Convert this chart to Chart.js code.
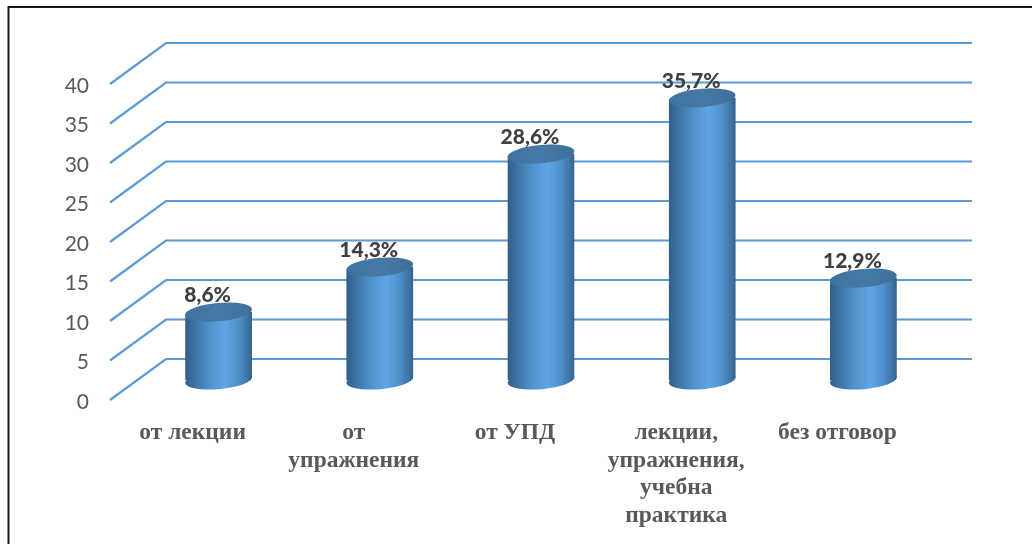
<!DOCTYPE html>
<html><head><meta charset="utf-8">
<style>html,body{margin:0;padding:0;background:#fff}#w{position:absolute;left:0;top:0;width:1032px;height:544px}</style>
<script src="https://cdn.jsdelivr.net/npm/chart.js@4"></script>
</head><body><div id="w"><canvas id="c" width="1032" height="544"></canvas></div>
<script>
const categories = ['от лекции', ['от', 'упражнения'], 'от УПД', ['лекции,', 'упражнения,', 'учебна', 'практика'], 'без отговор'];
const values = [8.6, 14.3, 28.6, 35.7, 12.9];
const valueLabels = ['8,6%', '14,3%', '28,6%', '35,7%', '12,9%'];

const DX = 56, DY = -41;        // depth of the 3D floor
const MX = 28, MY = -20;        // bar sits half way through the depth
const RX = 33.5, RY = 9.2, ROT = -5 * Math.PI / 180;

function bodyGradient(ctx, cx) {
  const g = ctx.createLinearGradient(cx - RX, 0, cx + RX, 0);
  g.addColorStop(0, '#305e87');
  g.addColorStop(0.15, '#3d74a6');
  g.addColorStop(0.35, '#4f90ca');
  g.addColorStop(0.6, '#5ea6e5');
  g.addColorStop(0.8, '#4f8fca');
  g.addColorStop(0.93, '#3f74a5');
  g.addColorStop(1, '#34618c');
  return g;
}
function ellipse(ctx, x, y, fill) {
  ctx.beginPath();
  ctx.ellipse(x, y, RX, RY, ROT, 0, Math.PI * 2);
  ctx.fillStyle = fill;
  ctx.fill();
}
const depth3d = {
  id: 'depth3d',
  beforeDraw(chart) {
    const { ctx, width, height } = chart;
    ctx.save();
    ctx.fillStyle = '#fff';
    ctx.fillRect(0, 0, width, height);
    ctx.strokeStyle = '#1a1a1a';
    ctx.lineWidth = 2;
    ctx.beginPath();
    ctx.moveTo(8.5, height);
    ctx.lineTo(8.5, 7);
    ctx.lineTo(width, 7);
    ctx.stroke();
    ctx.restore();
  },
  beforeDatasetsDraw(chart) {
    const { ctx, chartArea: a, scales: { y } } = chart;
    ctx.save();
    ctx.strokeStyle = '#5B9BD5';
    ctx.lineWidth = 2.2;
    ctx.lineJoin = 'miter';
    y.ticks.forEach(t => {
      const py = y.getPixelForValue(t.value);
      ctx.beginPath();
      ctx.moveTo(a.left, py);
      ctx.lineTo(a.left + DX, py + DY);
      ctx.lineTo(a.right + DX, py + DY);
      ctx.stroke();
    });
    ctx.restore();
  },
  beforeDatasetDraw(chart, args) {
    const { ctx } = chart;
    const pts = args.meta.data;
    pts.forEach(b => {
      const cx = b.x + MX, cy = b.base + MY;
      ellipse(ctx, cx, cy, bodyGradient(ctx, cx));
    });
    ctx.save();
    const ex = RX * Math.cos(ROT), ey = RX * Math.sin(ROT);
    ctx.beginPath();
    pts.forEach(b => {
      const cx = b.x + MX, topY = b.y + MY, botY = b.base + MY;
      ctx.moveTo(cx - ex, topY - ey);
      ctx.lineTo(cx - ex, botY - ey);
      ctx.ellipse(cx, botY, RX, RY, ROT, Math.PI, 0, true);
      ctx.lineTo(cx + ex, topY + ey);
      ctx.ellipse(cx, topY, RX, RY, ROT, 0, Math.PI, true);
      ctx.closePath();
    });
    ctx.clip();
    ctx.translate(MX, MY);
  },
  afterDatasetDraw(chart, args) {
    const { ctx } = chart;
    ctx.restore();
    args.meta.data.forEach(b => {
      const cx = b.x + MX, cy = b.y + MY;
      const g = ctx.createLinearGradient(cx - RX, cy, cx + RX, cy);
      g.addColorStop(0, '#3f729f');
      g.addColorStop(0.5, '#4679a6');
      g.addColorStop(1, '#3f6f99');
      ellipse(ctx, cx, cy, g);
    });
  },
  afterDatasetsDraw(chart) {
    const { ctx } = chart;
    const meta = chart.getDatasetMeta(0);
    ctx.save();
    ctx.font = '900 21px Lato';
    ctx.fillStyle = '#404040';
    ctx.textAlign = 'center';
    ctx.textBaseline = 'middle';
    meta.data.forEach((b, i) => {
      ctx.fillText(valueLabels[i], b.x + MX - 11, b.y + MY - 17);
    });
    ctx.restore();
  }
};

new Chart(document.getElementById('c'), {
  type: 'bar',
  data: {
    labels: categories,
    datasets: [{
      data: values,
      barThickness: 2 * RX,
      clip: false,
      borderWidth: 0,
      backgroundColor: c => {
        const s = c.chart.scales.x;
        return bodyGradient(c.chart.ctx, s.getPixelForTick(c.dataIndex));
      }
    }]
  },
  plugins: [depth3d],
  options: {
    responsive: false,
    animation: false,
    layout: { padding: { left: 0, right: 116, top: 84, bottom: 0 } },
    plugins: { legend: { display: false }, tooltip: { enabled: false }, title: { display: false } },
    scales: {
      x: {
        grid: { display: false, drawTicks: false },
        border: { display: false },
        afterFit: s => { s.height = 144; },
        ticks: {
          autoSkip: false, maxRotation: 0, minRotation: 0, padding: 19, labelOffset: 2,
          color: '#595959',
          font: { family: '"Liberation Serif"', size: 23.5, weight: 'bold', lineHeight: 1.18 }
        }
      },
      y: {
        min: 0, max: 40,
        grid: { display: false, drawTicks: false },
        border: { display: false },
        afterFit: s => { s.width = 110; },
        ticks: {
          stepSize: 5, padding: 21, labelOffset: 2,
          color: '#595959',
          font: { family: 'Lato', size: 21 }
        }
      }
    }
  }
});
</script></body></html>
